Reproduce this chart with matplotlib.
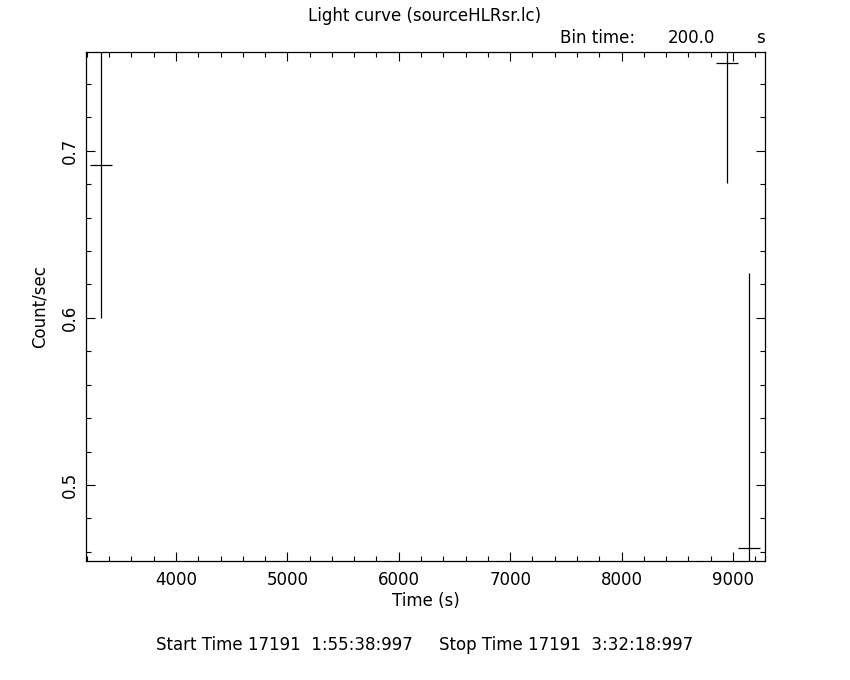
import matplotlib
matplotlib.use("Agg")
import matplotlib.pyplot as plt
from matplotlib.ticker import MultipleLocator

# light curve bins
time = [3330, 8943, 9143]
rate = [0.6916, 0.7525, 0.4621]
rate_err = [0.0916, 0.0718, 0.1644]
half_bin = [100, 100, 100]

title = "Light curve (sourceHLRsr.lc)"
bin_label = "Bin time:"
bin_value = "200.0"
bin_unit = "s"
times_text = "Start Time 17191  1:55:38:997     Stop Time 17191  3:32:18:997"

plt.rcParams['font.family'] = ['DejaVu Sans']
plt.rcParams['font.size'] = 12

fig = plt.figure(figsize=(8.5, 6.8), dpi=100)
ax = fig.add_axes([0.1012, 0.175, 0.7988, 0.7485])

ax.errorbar(time, rate, yerr=rate_err, xerr=half_bin, fmt='none',
            ecolor='black', elinewidth=0.9, capsize=0)

ax.set_xlim(3193, 9287)
ax.set_ylim(0.4545, 0.759)

ax.xaxis.set_major_locator(MultipleLocator(1000))
ax.xaxis.set_minor_locator(MultipleLocator(200))
ax.yaxis.set_major_locator(MultipleLocator(0.1))
ax.yaxis.set_minor_locator(MultipleLocator(0.02))
ax.tick_params(which='both', direction='in', top=True, right=True, width=0.8)
ax.tick_params(which='major', length=6.3)
ax.tick_params(axis='x', which='major', pad=7)
ax.tick_params(axis='y', which='major', pad=5)
ax.tick_params(which='minor', length=3.4)
for lbl in ax.get_yticklabels():
    lbl.set_rotation(90)
    lbl.set_va('center')
for s in ax.spines.values():
    s.set_linewidth(0.9)

ax.set_xlabel("Time (s)", labelpad=2)
ax.set_ylabel("Count/sec", labelpad=9)

fig.text(0.5, 1 - 16 / 680, title, ha='center', va='center')
fig.text(560 / 850, 1 - 38 / 680, bin_label, ha='left', va='center')
fig.text(691 / 850, 1 - 38 / 680, bin_value, ha='center', va='center')
fig.text(760 / 850, 1 - 38 / 680, bin_unit, ha='center', va='center')
fig.text(425 / 850, 1 - 645 / 680, times_text, ha='center', va='center')

fig.savefig("out.png", dpi=100)
